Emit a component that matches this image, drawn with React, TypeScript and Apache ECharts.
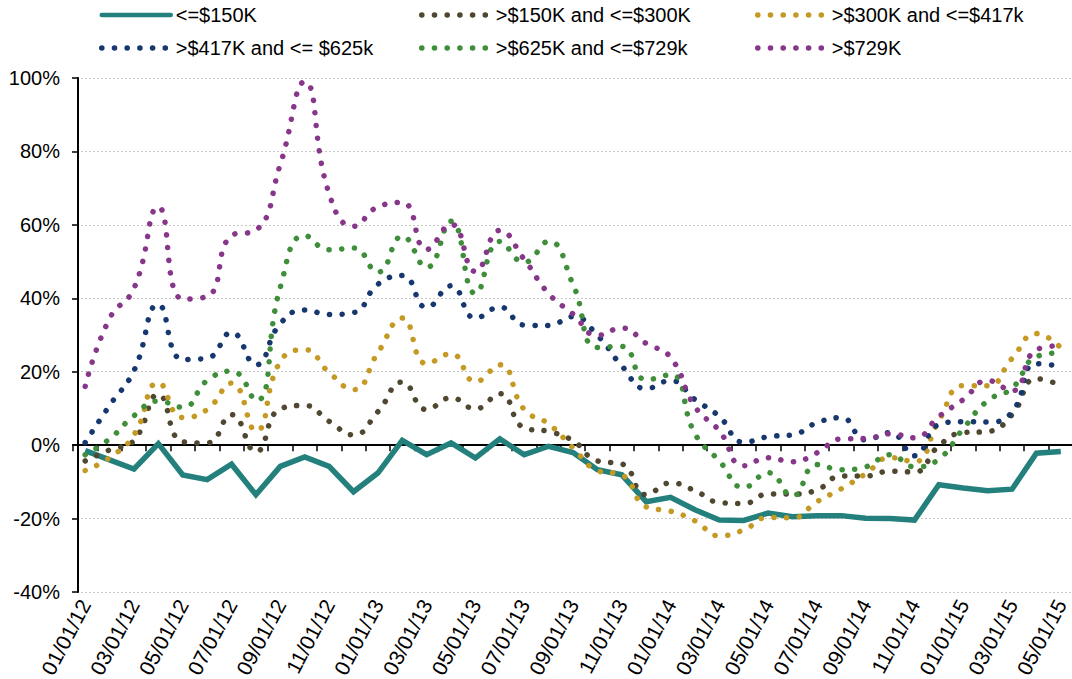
import React, { useEffect, useRef } from 'react';
import * as echarts from 'echarts';

const categories = [
  '01/01/12', '02/01/12', '03/01/12', '04/01/12', '05/01/12', '06/01/12', '07/01/12', '08/01/12', '09/01/12', '10/01/12', '11/01/12', '12/01/12',
  '01/01/13', '02/01/13', '03/01/13', '04/01/13', '05/01/13', '06/01/13', '07/01/13', '08/01/13', '09/01/13', '10/01/13', '11/01/13', '12/01/13',
  '01/01/14', '02/01/14', '03/01/14', '04/01/14', '05/01/14', '06/01/14', '07/01/14', '08/01/14', '09/01/14', '10/01/14', '11/01/14', '12/01/14',
  '01/01/15', '02/01/15', '03/01/15', '04/01/15', '05/01/15',
];

const seriesNames = [
  '<=$150K',
  '>$150K and <=$300K',
  '>$300K and <=$417k',
  '>$417K and <= $625k',
  '>$625K and <=$729k',
  '>$729K',
];

const colors = ['#23807D', '#4F4730', '#C49A24', '#17386E', '#3F8E3A', '#87378A'];

const le150 = [-1.5, -4.0, -6.5, 0.4, -8.1, -9.4, -5.2, -13.5, -5.8, -3.2, -5.8, -12.7, -7.6, 1.3, -2.6, 0.6, -3.5, 1.7, -2.6, -0.3, -2.0, -6.7, -8.1, -15.4, -14.2, -17.6, -20.4, -20.5, -18.5, -19.5, -19.2, -19.2, -19.9, -20.0, -20.4, -10.8, -11.7, -12.4, -12.0, -2.2, -1.7];
const k150to300 = [-4.3, -1.3, 1.3, 13.8, 0.9, 0.6, 8.3, -1.8, 9.9, 10.8, 6.5, 2.8, 9.1, 17.2, 9.7, 12.9, 9.9, 14.0, 4.7, 3.7, 1.2, -4.3, -5.1, -13.5, -10.3, -12.4, -15.6, -15.9, -13.3, -13.3, -12.2, -8.4, -8.4, -7.1, -7.3, -0.2, 3.4, 3.7, 8.3, 18.1, 16.3];
const k300to417 = [-6.9, -3.4, 2.8, 17.0, 7.5, 9.7, 16.9, 3.9, 22.8, 26.0, 19.8, 15.1, 25.2, 34.6, 22.2, 24.9, 17.3, 21.9, 9.7, 5.8, -0.7, -6.9, -8.1, -16.8, -18.0, -20.6, -24.7, -23.1, -19.7, -19.8, -15.4, -11.9, -7.8, -3.4, -4.5, 6.7, 16.2, 16.2, 23.6, 30.4, 26.5];
const k417to625 = [0.7, 10.8, 20.3, 38.3, 23.3, 23.7, 30.7, 21.9, 33.1, 36.8, 35.6, 36.1, 43.8, 46.2, 37.5, 43.4, 34.6, 37.6, 32.7, 32.6, 35.0, 29.9, 21.6, 15.4, 17.6, 12.4, 7.8, 0.8, 2.3, 2.8, 6.1, 7.5, 1.4, 3.4, -2.9, 5.6, 6.4, 6.3, 9.0, 22.2, 21.5];
const k625to729 = [-2.6, 1.7, 8.0, 12.0, 10.3, 17.6, 20.2, 12.1, 43.0, 57.1, 53.2, 53.7, 47.1, 56.9, 48.4, 61.0, 41.3, 55.5, 49.8, 55.5, 43.8, 26.6, 26.9, 17.8, 19.2, 3.1, -4.3, -11.5, -7.5, -13.8, -5.3, -6.7, -5.9, -2.6, -5.9, -3.8, 4.5, 12.1, 15.5, 24.1, 25.2];
const gt729 = [16.0, 34.5, 42.7, 64.9, 39.8, 40.5, 57.1, 58.5, 76.5, 99.0, 68.5, 59.6, 64.9, 66.1, 53.3, 60.2, 47.3, 58.5, 50.6, 41.3, 35.7, 29.9, 31.9, 27.7, 23.9, 10.5, 3.9, -5.6, -3.4, -4.5, -2.1, 1.7, 1.8, 3.1, 2.0, 7.8, 12.4, 17.6, 14.8, 26.0, 27.1];

const seriesData = [le150, k150to300, k300to417, k417to625, k625to729, gt729];

const FONT = '"Liberation Sans", Arial, sans-serif';
const DOTS = [0.1, 12.6];

export default function App() {
  const ref = useRef<HTMLDivElement>(null);

  useEffect(() => {
    if (!ref.current) return;
    const chart = echarts.init(ref.current, null, { renderer: 'svg' });

    const series = seriesData.map((data, i) => {
      const solid = i === 0;
      return {
        name: seriesNames[i],
        type: 'line',
        xAxisIndex: 0,
        yAxisIndex: 0,
        data,
        smooth: solid ? false : 0.5,
        symbol: 'none',
        itemStyle: { color: colors[i] },
        lineStyle: solid
          ? { color: colors[i], width: 5.5, type: 'solid', cap: 'butt', join: 'miter' }
          : { color: colors[i], width: 5.5, type: DOTS, cap: 'round' },
        emphasis: { disabled: true },
        z: 2 + i,
      };
    });

    const legendItem = (i: number) => ({
      name: seriesNames[i],
      itemStyle: { opacity: 0 },
      lineStyle:
        i === 0
          ? { color: colors[i], width: 4.5, type: 'solid', cap: 'round' }
          : { color: colors[i], width: 5.5, type: DOTS, cap: 'round' },
    });

    const legendBase = {
      orient: 'vertical',
      top: 5,
      padding: 0,
      itemWidth: 69,
      itemHeight: 14,
      itemGap: 13,
      selectedMode: false,
      textStyle: { fontSize: 20, color: '#000', fontFamily: FONT, lineHeight: 20 },
    };

    chart.setOption({
      animation: false,
      backgroundColor: '#fff',
      textStyle: { fontFamily: FONT },
      grid: { left: 73, right: -1, top: 78, bottom: 87, containLabel: false, outerBoundsMode: 'none' },
      legend: [
        { ...legendBase, left: 99, data: [legendItem(0), legendItem(3)] },
        { ...legendBase, left: 419, data: [legendItem(1), legendItem(4)] },
        { ...legendBase, left: 755, data: [legendItem(2), legendItem(5)] },
      ],
      xAxis: [
        {
          type: 'category',
          data: categories,
          boundaryGap: true,
          position: 'bottom',
          axisLine: { show: false, onZero: false },
          axisTick: { show: false },
          splitLine: { show: false },
          axisLabel: {
            interval: 1,
            rotate: 62,
            fontSize: 21,
            color: '#000',
            fontFamily: FONT,
            margin: 9,
          },
        },
        {
          type: 'category',
          data: categories,
          boundaryGap: true,
          position: 'top',
          axisLine: { show: true, onZero: true, lineStyle: { color: '#000', width: 2 } },
          axisTick: { show: true, inside: true, interval: 0, length: 6, lineStyle: { color: '#000', width: 1.5 } },
          axisLabel: { show: false },
          splitLine: { show: false },
        },
      ],
      yAxis: {
        type: 'value',
        min: -40,
        max: 100,
        interval: 20,
        offset: -5,
        axisLine: { show: true, onZero: false, lineStyle: { color: '#000', width: 2 } },
        axisTick: { show: true, length: 6, lineStyle: { color: '#000', width: 1.5 } },
        axisLabel: { formatter: '{value}%', fontSize: 20, color: '#000', fontFamily: FONT, margin: 18 },
        splitLine: { show: true, lineStyle: { color: '#c8c8c8', type: [2, 2], width: 1 } },
      },
      series,
    });

    return () => chart.dispose();
  }, []);

  return (
    <div
      ref={ref}
      style={{ position: 'fixed', left: 0, top: 0, width: 1072, height: 679, background: '#fff' }}
    />
  );
}
